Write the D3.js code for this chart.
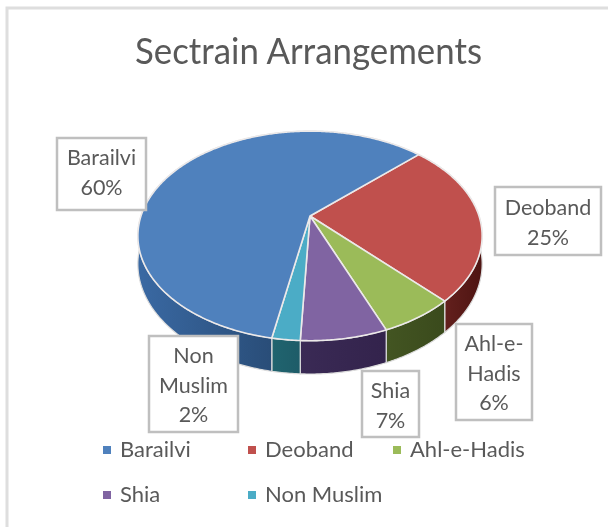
<!DOCTYPE html>
<html>
<head>
<meta charset="utf-8">
<script src="https://d3js.org/d3.v7.min.js"></script>
<style>
  html, body { margin: 0; padding: 0; background: #fff; overflow: hidden; }
  svg { filter: blur(0.4px); }
  text { font-family: Lato, "Open Sans", sans-serif; fill: #595959; }
</style>
</head>
<body>
<div id="chart"></div>
<script>
const width = 608, height = 527;

// data
const categories = ["Barailvi", "Deoband", "Ahl-e-Hadis", "Shia", "Non Muslim"];
const shares = [60, 25, 6, 6.8, 2.2];
const labelLines = [["Barailvi"], ["Deoband"], ["Ahl-e-", "Hadis"], ["Shia"], ["Non", "Muslim"]];
const topColors = ["#4f81bd", "#c0504d", "#9bbb59", "#8064a2", "#4bacc6"];
const sideLight = ["#3a69a3", "#63201d", "#435522", "#3a2a55", "#20646f"];
const sideDark = ["#294d78", "#4e1412", "#3a4a1c", "#33234c", "#1e5c68"];

// layout of the label boxes, same order as categories
const labelBoxes = [
  {x0: 57, x1: 146, y0: 138, y1: 210, base: 165},
  {x0: 495, x1: 601, y0: 187, y1: 255, base: 215},
  {x0: 456, x1: 532, y0: 324, y1: 420, base: 351},
  {x0: 362, x1: 419, y0: 371, y1: 437, base: 398},
  {x0: 149, x1: 238, y0: 336, y1: 432, base: 363}
];
const legendSpots = [
  {x: 103, y: 450}, {x: 248, y: 450}, {x: 393, y: 450},
  {x: 103, y: 495}, {x: 248, y: 495}
];

const svg = d3.select("#chart").append("svg")
  .attr("width", width)
  .attr("height", height);

// chart frame runs off the right and bottom of the picture
svg.append("path")
  .attr("d", `M7,${height + 5} V8 H${width + 5}`)
  .attr("fill", "none")
  .attr("stroke", "#dedede")
  .attr("stroke-width", 3);

svg.append("text")
  .attr("x", 308.5)
  .attr("y", 64)
  .attr("text-anchor", "middle")
  .attr("textLength", 347)
  .attr("lengthAdjust", "spacingAndGlyphs")
  .style("font-size", "37px")
  .text("Sectrain Arrangements");

// tilted pie: circle seen in perspective, nearer edge is bigger
const cx = 310, cy = 216, rx = 169, ry = 101, tilt = 0.19, depth = 27;
const startAngle = 46.6 * Math.PI / 180;

function project(a, drop) {
  const X = Math.sin(a), Y = -Math.cos(a);
  const w = 1 - tilt * Y;
  return [cx + rx * X / w, cy + ry * Y / w + (drop ? depth / w : 0)];
}

function arcAngles(a0, a1) {
  const n = Math.max(2, Math.ceil((a1 - a0) / 0.01));
  return d3.range(n + 1).map(i => a0 + (a1 - a0) * i / n);
}

const line = d3.line();

// Deoband sits first clockwise from the start angle, Barailvi comes last
const order = [1, 2, 3, 4, 0];
const pieces = d3.pie().sort(null)
  .startAngle(startAngle)
  .endAngle(startAngle + 2 * Math.PI)(order.map(i => shares[i]))
  .map((d, k) => ({i: order[k], a0: d.startAngle, a1: d.endAngle}));

const defs = svg.append("defs");
pieces.forEach(p => {
  // shade only across the part of the side that faces us
  const front = arcAngles(p.a0, p.a1).filter(a => Math.cos(a) < 0).map(a => project(a, false)[0]);
  const g = defs.append("linearGradient")
    .attr("id", "side" + p.i)
    .attr("gradientUnits", "userSpaceOnUse")
    .attr("x1", d3.min(front))
    .attr("x2", d3.max(front))
    .attr("y1", 0)
    .attr("y2", 0);
  g.append("stop").attr("offset", "0%").attr("stop-color", sideLight[p.i]);
  g.append("stop").attr("offset", "100%").attr("stop-color", sideDark[p.i]);
});

// sides first, the top faces cover their back part
svg.append("g").selectAll("path")
  .data(pieces)
  .join("path")
  .attr("d", d => {
    const angles = arcAngles(d.a0, d.a1);
    const pts = angles.map(a => project(a, false))
      .concat(angles.slice().reverse().map(a => project(a, true)));
    return line(pts) + "Z";
  })
  .attr("fill", d => `url(#side${d.i})`)
  .attr("stroke", "#dcdcdc")
  .attr("stroke-width", 1.2);

svg.append("g").selectAll("path")
  .data(pieces)
  .join("path")
  .attr("d", d => line([[cx, cy]].concat(arcAngles(d.a0, d.a1).map(a => project(a, false)))) + "Z")
  .attr("fill", d => topColors[d.i])
  .attr("stroke", "#ece9e9")
  .attr("stroke-width", 1.6)
  .attr("stroke-linejoin", "round");

// data labels
const labels = svg.append("g").selectAll("g")
  .data(categories)
  .join("g");

labels.append("rect")
  .attr("x", (d, i) => labelBoxes[i].x0)
  .attr("y", (d, i) => labelBoxes[i].y0)
  .attr("width", (d, i) => labelBoxes[i].x1 - labelBoxes[i].x0)
  .attr("height", (d, i) => labelBoxes[i].y1 - labelBoxes[i].y0)
  .attr("fill", "#fff")
  .attr("stroke", "#bfbfbf")
  .attr("stroke-width", 2.5);

labels.each(function(d, i) {
  const box = labelBoxes[i];
  const rows = labelLines[i].concat(Math.round(shares[i]) + "%");
  d3.select(this).selectAll("text")
    .data(rows)
    .join("text")
    .attr("x", (box.x0 + box.x1) / 2)
    .attr("y", (r, j) => box.base + j * 29.5)
    .attr("text-anchor", "middle")
    .style("font-size", "21.5px")
    .text(r => r);
});

// legend
const legend = svg.append("g").selectAll("g")
  .data(categories)
  .join("g")
  .attr("transform", (d, i) => `translate(${legendSpots[i].x},${legendSpots[i].y})`);

legend.append("rect")
  .attr("y", -4)
  .attr("width", 8)
  .attr("height", 8)
  .attr("fill", (d, i) => topColors[i]);

legend.append("text")
  .attr("x", 17)
  .attr("y", 7)
  .style("font-size", "22px")
  .text(d => d);
</script>
</body>
</html>
